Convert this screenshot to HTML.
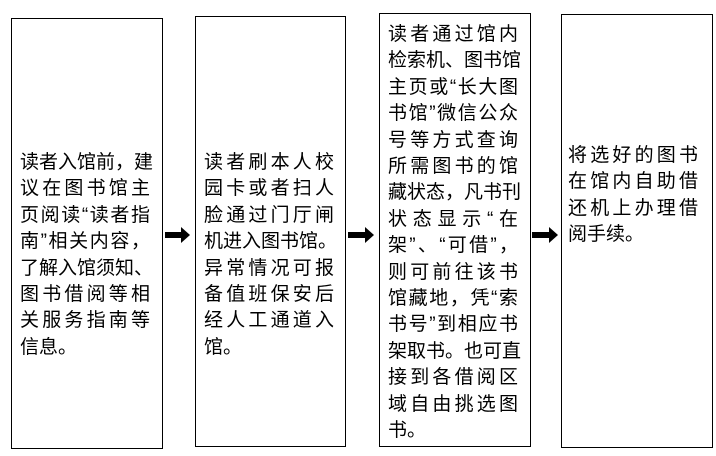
<!DOCTYPE html>
<html><head><meta charset="utf-8"><style>
body{margin:0;width:716px;height:456px;background:#fff;position:relative;overflow:hidden;font-family:"Liberation Sans","Noto Sans CJK SC","WenQuanYi Zen Hei",sans-serif;}
.b{position:absolute;border:1.3px solid #000;box-sizing:border-box;}
.t{position:absolute;font-size:19px;line-height:26.4px;color:#000;}
.t div{text-align:justify;text-align-last:justify;white-space:nowrap;}
.t div.l{text-align-last:left;}
svg{position:absolute;left:0;top:0}
</style></head><body>
<div class="b" style="left:11px;top:18px;width:152px;height:431px"></div>
<div class="b" style="left:195px;top:16px;width:151px;height:431px"></div>
<div class="b" style="left:379px;top:13px;width:152px;height:434px"></div>
<div class="b" style="left:561px;top:14px;width:152px;height:434px"></div>

<div class="t" style="left:20px;top:150px;width:130px">
<div>读者入馆前，建</div><div>议在图书馆主</div><div>页阅读“读者指</div><div>南”相关内容，</div><div>了解入馆须知、</div><div>图书借阅等相</div><div>关服务指南等</div><div class="l">信息。</div></div>

<div class="t" style="left:204px;top:150px;width:130px">
<div>读者刷本人校</div><div>园卡或者扫人</div><div>脸通过门厅闸</div><div>机进入图书馆。</div><div>异常情况可报</div><div>备值班保安后</div><div>经人工通道入</div><div class="l">馆。</div></div>

<div class="t" style="left:388px;top:22px;width:130px">
<div>读者通过馆内</div><div>检索机、图书馆</div><div>主页或“长大图</div><div>书馆”微信公众</div><div>号等方式查询</div><div>所需图书的馆</div><div>藏状态，凡书刊</div><div>状态显示“在</div><div>架”、“可借”，</div><div>则可前往该书</div><div>馆藏地，凭“索</div><div>书号”到相应书</div><div>架取书。也可直</div><div>接到各借阅区</div><div>域自由挑选图</div><div class="l">书。</div></div>

<div class="t" style="left:568px;top:143px;width:130px">
<div>将选好的图书</div><div>在馆内自助借</div><div>还机上办理借</div><div class="l">阅手续。</div></div>

<svg width="716" height="456">
<g fill="#000">
<polygon points="165,232 181,232 181,227 190,235 181,243 181,238 165,238"/>
<polygon points="348,232 365,232 365,227 374,235 365,243 365,238 348,238"/>
<polygon points="532,232 549,232 549,227 558,235 549,243 549,238 532,238"/>
</g></svg>
</body></html>
